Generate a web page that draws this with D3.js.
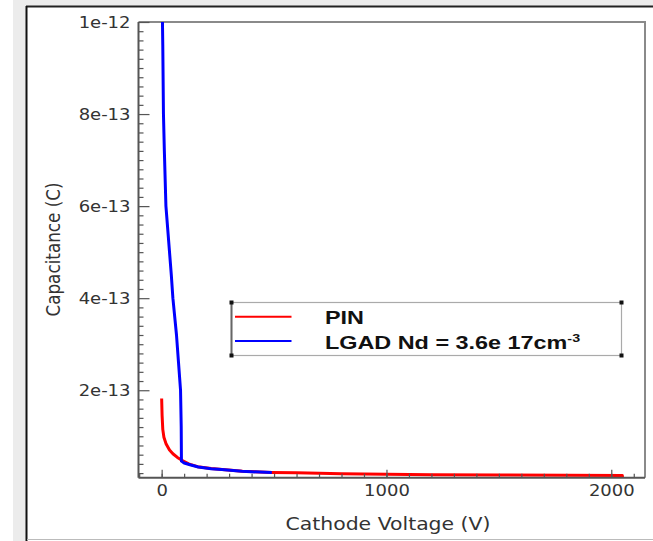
<!DOCTYPE html>
<html><head><meta charset="utf-8">
<script src="https://cdn.jsdelivr.net/npm/d3@7"></script>
<style>html,body{margin:0;padding:0;background:#fff;}svg{display:block;}</style>
</head><body>
<svg id="chart" width="653" height="541"></svg>
<script>
// ---- data ----
const pinVoltage = [0, 2, 5, 10, 20, 35, 50, 70, 90, 120, 160, 220, 270, 360, 490, 600, 800, 1000, 1200, 1500, 1800, 2049, 2050];
const pinCap = [1.82e-13, 1.45e-13, 1.15e-13, 9.8e-14, 8.3e-14, 7.0e-14, 6.2e-14, 5.4e-14, 4.8e-14, 4.0e-14, 3.4e-14, 3.0e-14, 2.8e-14, 2.4e-14, 2.15e-14, 2.05e-14, 1.85e-14, 1.75e-14, 1.65e-14, 1.58e-14, 1.55e-14, 1.5e-14, 1.1e-14];
const lgadVoltage = [3, 5, 8, 12, 19, 27, 35, 43, 50, 58, 66, 75, 84, 87, 88, 100, 130, 163, 220, 267, 356, 490];
const lgadCap = [1.02e-12, 9.5e-13, 8.0e-13, 7.2e-13, 6.0e-13, 5.5e-13, 5.0e-13, 4.5e-13, 4.0e-13, 3.6e-13, 3.2e-13, 2.6e-13, 2.0e-13, 1.2e-13, 4.6e-14, 4.2e-14, 3.75e-14, 3.33e-14, 2.95e-14, 2.76e-14, 2.39e-14, 2.12e-14];
const seriesNames = ["PIN", "LGAD Nd = 3.6e 17cm"];
const seriesColors = ["#ff0000", "#0000ff"];
const xMajorTicks = [0, 1000, 2000];
const xTickLabels = ["0", "1000", "2000"];
const xMinorTicks = d3.range(-100, 2101, 100);
const yMajorTicks = [2e-13, 4e-13, 6e-13, 8e-13, 1e-12];
const yTickLabels = ["2e-13", "4e-13", "6e-13", "8e-13", "1e-12"];
const yMinorTicks = d3.range(1, 51).map(k => k * 2e-14);
const xTitle = "Cathode Voltage (V)";
const yTitle = "Capacitance (C)";

// ---- layout ----
const L = 138.5, R = 645, T = 22, B = 477.7;
const SX = 1.2; // horizontal stretch of text
const svg = d3.select("#chart");

// outer frame
svg.append("rect").attr("x", 13).attr("y", 0).attr("width", 13.5).attr("height", 541).attr("fill", "#ececec");
svg.append("rect").attr("x", 13).attr("y", 0).attr("width", 640).attr("height", 6).attr("fill", "#ececec");
svg.append("line").attr("x1", 26).attr("x2", 653).attr("y1", 6.5).attr("y2", 6.5).attr("stroke", "#222").attr("stroke-width", 2);
svg.append("line").attr("x1", 26.5).attr("x2", 26.5).attr("y1", 6).attr("y2", 541).attr("stroke", "#111").attr("stroke-width", 2);
svg.append("line").attr("x1", 27).attr("x2", 653).attr("y1", 539.5).attr("y2", 539.5).attr("stroke", "#bbb").attr("stroke-width", 1);

const x = d3.scaleLinear().domain([-103, 2150]).range([L, R]);
const y = d3.scaleLinear().domain([1e-14, 1e-12]).range([B, T]);

// plot border (top & right)
svg.append("path").attr("d", `M${L},${T}H${R}V${B}`).attr("fill", "none").attr("stroke", "#8a8a8a").attr("stroke-width", 2);

// clip
svg.append("clipPath").attr("id", "clip").append("rect").attr("x", L).attr("y", T).attr("width", R - L).attr("height", B - T);

// lines
const line = d3.line().x(d => x(d[0])).y(d => y(d[1]));
const pinData = pinVoltage.map((v, i) => [v, pinCap[i]]);
const lgadData = lgadVoltage.map((v, i) => [v, lgadCap[i]]);
const gLines = svg.append("g").attr("clip-path", "url(#clip)");
gLines.append("path").datum(pinData).attr("d", line).attr("fill", "none").attr("stroke", seriesColors[0]).attr("stroke-width", 3).attr("stroke-linejoin", "round");
gLines.append("path").datum(lgadData).attr("d", line).attr("fill", "none").attr("stroke", seriesColors[1]).attr("stroke-width", 3).attr("stroke-linejoin", "round");

// minor ticks
const axColor = "#555";
svg.append("g").attr("transform", `translate(0,${B})`)
  .call(d3.axisBottom(x).tickValues(xMinorTicks).tickSize(-4).tickFormat("").tickSizeOuter(0))
  .call(g => g.select(".domain").remove())
  .call(g => g.selectAll("line").attr("stroke", axColor).attr("stroke-width", 1.2));
svg.append("g").attr("transform", `translate(${L},0)`)
  .call(d3.axisLeft(y).tickValues(yMinorTicks.filter(v => !yMajorTicks.some(m => Math.abs(m - v) < 1e-16))).tickSize(-5).tickFormat("").tickSizeOuter(0))
  .call(g => g.select(".domain").remove())
  .call(g => g.selectAll("line").attr("stroke", axColor).attr("stroke-width", 1.2));

// major axes
const xAxis = svg.append("g").attr("transform", `translate(0,${B})`)
  .call(d3.axisBottom(x).tickValues(xMajorTicks).tickSize(-8).tickSizeOuter(0).tickPadding(0)
    .tickFormat((d, i) => xTickLabels[i]));
xAxis.select(".domain").attr("d", `M${L},0H${R}`).attr("stroke", axColor).attr("stroke-width", 2);
xAxis.selectAll("line").attr("stroke", axColor).attr("stroke-width", 1.2);
xAxis.selectAll("text").attr("y", 0).attr("dy", null).attr("transform", `translate(0,18) scale(${SX},1)`)
  .attr("font-family", "DejaVu Sans").attr("font-size", 15).attr("fill", "#333");

const yAxis = svg.append("g").attr("transform", `translate(${L},0)`)
  .call(d3.axisLeft(y).tickValues(yMajorTicks).tickSize(-11).tickSizeOuter(0).tickPadding(0)
    .tickFormat((d, i) => yTickLabels[i]));
yAxis.select(".domain").attr("d", `M0,${T}V${B}`).attr("stroke", axColor).attr("stroke-width", 2);
yAxis.selectAll("line").attr("stroke", axColor).attr("stroke-width", 1.2);
yAxis.selectAll("text").attr("x", 0).attr("dy", "0.35em").attr("transform", `translate(-8,0) scale(${SX},1)`)
  .attr("font-family", "DejaVu Sans").attr("font-size", 15).attr("fill", "#333");
xAxis.attr("font-family", "DejaVu Sans");
yAxis.attr("font-family", "DejaVu Sans");

// axis titles
svg.append("text").attr("transform", `translate(388,529.5) scale(${SX},1)`).attr("text-anchor", "middle")
  .attr("font-family", "DejaVu Sans").attr("font-size", 17).attr("fill", "#333").text(xTitle);
svg.append("text").attr("transform", `translate(60,249.5) scale(${SX},1) rotate(-90)`).attr("text-anchor", "middle")
  .attr("font-family", "DejaVu Sans").attr("font-size", 16.8).attr("fill", "#333").text(yTitle);

// legend
const lg = svg.append("g");
const lx0 = 231.5, lx1 = 621.5, ly0 = 302.5, ly1 = 355.5;
lg.append("rect").attr("x", lx0).attr("y", ly0).attr("width", lx1 - lx0).attr("height", ly1 - ly0)
  .attr("fill", "#fff").attr("stroke", "#aaa").attr("stroke-width", 1.2);
lg.append("line").attr("x1", lx0).attr("x2", lx0).attr("y1", ly0).attr("y2", ly1).attr("stroke", "#666").attr("stroke-width", 2);
[[lx0, ly0], [lx1, ly0], [lx0, ly1], [lx1, ly1]].forEach(p => {
  lg.append("rect").attr("x", p[0] - 2).attr("y", p[1] - 2).attr("width", 4).attr("height", 4).attr("fill", "#111");
});
const legendY = [316.7, 341];
seriesNames.forEach((name, i) => {
  lg.append("line").attr("x1", 235).attr("x2", 291.5).attr("y1", legendY[i]).attr("y2", legendY[i])
    .attr("stroke", seriesColors[i]).attr("stroke-width", 2);
  const t = lg.append("text").attr("transform", `translate(325,${legendY[i] + 7.6}) scale(1.3,1)`)
    .attr("font-family", "Liberation Sans, Arial, sans-serif").attr("font-weight", "bold").attr("font-size", 18)
    .attr("fill", "#111").text(name);
  if (i === 1) {
    t.append("tspan").attr("dy", -7).attr("font-size", 11).text("-3");
  }
});
</script>
</body></html>
